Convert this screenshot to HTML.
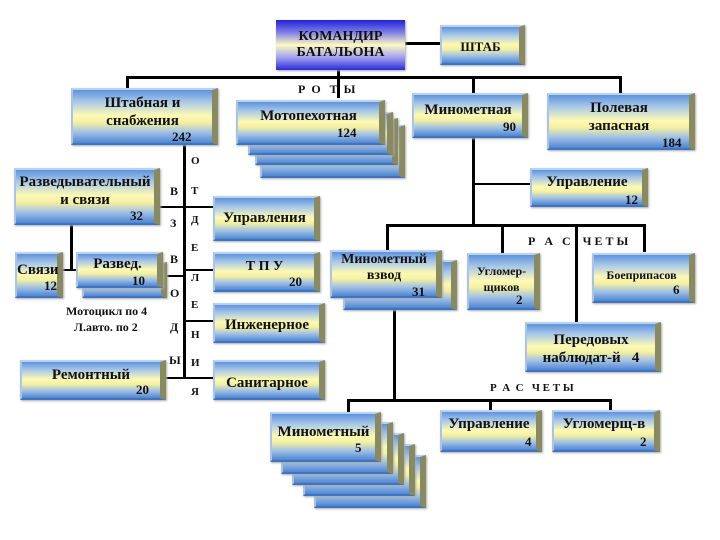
<!DOCTYPE html>
<html><head><meta charset="utf-8"><style>
body{margin:0;width:720px;height:540px;background:#fff;position:relative;overflow:hidden;font-family:"Liberation Serif","DejaVu Serif",serif;font-weight:bold;color:#111}
.b{position:absolute;box-sizing:border-box;background:linear-gradient(to bottom,#5d93dc 0%,#a9c8e8 22%,#fdf9b4 48%,#f3efa2 62%,#9fc0e6 80%,#4f86d2 100%);border-right:6px solid #8a8a60;border-left:2px solid #a8c4ea;border-top:2px solid #b8d2f0;border-bottom:2px solid #3f74c2;box-shadow:1px 1px 2px #aaa;font-size:14px;text-align:center;line-height:16px}
.cmd{background:linear-gradient(to bottom,#2020d8 0%,#8080e8 25%,#fdf9c0 50%,#a0a0f0 75%,#2a2ad8 100%);border:none}
.n{position:absolute;font-size:13px}
.l{position:absolute;background:#000}
.t{position:absolute;font-size:11px;letter-spacing:0}
</style></head><body>
<!-- lines -->
<div class="l" style="left:127px;top:76px;width:494px;height:3px"></div>
<div class="l" style="left:337px;top:70px;width:3px;height:28px"></div>
<div class="l" style="left:126px;top:76px;width:3px;height:14px"></div>
<div class="l" style="left:472px;top:76px;width:3px;height:17px"></div>
<div class="l" style="left:619px;top:76px;width:3px;height:17px"></div>
<div class="l" style="left:405px;top:42px;width:35px;height:3px"></div>
<div class="l" style="left:183px;top:145px;width:3px;height:234px"></div>
<div class="l" style="left:160px;top:206px;width:53px;height:2px"></div>
<div class="l" style="left:70px;top:225px;width:3px;height:46px"></div>
<div class="l" style="left:63px;top:269px;width:13px;height:2px"></div>
<div class="l" style="left:163px;top:275px;width:21px;height:2px"></div>
<div class="l" style="left:184px;top:269px;width:29px;height:2px"></div>
<div class="l" style="left:184px;top:320px;width:29px;height:2px"></div>
<div class="l" style="left:166px;top:377px;width:47px;height:2px"></div>
<div class="l" style="left:472px;top:138px;width:3px;height:88px"></div>
<div class="l" style="left:473px;top:183px;width:57px;height:2px"></div>
<div class="l" style="left:387px;top:224px;width:258px;height:3px"></div>
<div class="l" style="left:386px;top:224px;width:3px;height:26px"></div>
<div class="l" style="left:501px;top:224px;width:3px;height:30px"></div>
<div class="l" style="left:575px;top:224px;width:3px;height:98px"></div>
<div class="l" style="left:643px;top:224px;width:3px;height:28px"></div>
<div class="l" style="left:393px;top:310px;width:3px;height:90px"></div>
<div class="l" style="left:348px;top:399px;width:263px;height:3px"></div>
<div class="l" style="left:347px;top:399px;width:3px;height:14px"></div>
<div class="l" style="left:489px;top:399px;width:3px;height:12px"></div>
<div class="l" style="left:609px;top:399px;width:3px;height:12px"></div>

<!-- top -->
<div class="b cmd" style="left:276px;top:20px;width:129px;height:50px;padding-top:9px">КОМАНДИР<br>БАТАЛЬОНА</div>
<div class="b" style="left:440px;top:25px;width:85px;height:40px;padding-top:12px;font-size:13px">ШТАБ</div>
<div class="t" style="left:298px;top:82px;font-size:12px">Р&nbsp;&nbsp;О&nbsp;&nbsp;&nbsp;Т&nbsp;&nbsp;Ы</div>

<div class="b" style="left:71px;top:88px;width:147px;height:57px;padding-top:4px;font-size:15px;line-height:18px">Штабная и<br>снабжения</div>
<div class="n" style="left:172px;top:129px">242</div>

<div class="b" style="left:260px;top:125px;width:145px;height:53px"></div>
<div class="b" style="left:255px;top:118px;width:143px;height:47px"></div>
<div class="b" style="left:248px;top:112px;width:145px;height:43px"></div>
<div class="b" style="left:236px;top:100px;width:149px;height:45px;padding-top:6px;font-size:15px">Мотопехотная</div>
<div class="n" style="left:337px;top:125px">124</div>

<div class="b" style="left:412px;top:93px;width:116px;height:45px;padding-top:7px;font-size:15px">Минометная</div>
<div class="n" style="left:503px;top:119px">90</div>

<div class="b" style="left:547px;top:93px;width:148px;height:57px;padding-top:4px;font-size:15px;line-height:18px">Полевая<br>запасная</div>
<div class="n" style="left:662px;top:135px">184</div>

<!-- left column -->
<div class="b" style="left:14px;top:168px;width:146px;height:57px;padding-top:3px;font-size:15px;line-height:18px">Разведывательный<br>и связи</div>
<div class="n" style="left:130px;top:208px">32</div>
<div class="b" style="left:213px;top:196px;width:107px;height:45px;padding-top:12px;font-size:15px">Управления</div>

<div class="t" style="left:170px;top:184px;font-size:12px">В</div>
<div class="t" style="left:170px;top:216px;font-size:12px">З</div>
<div class="t" style="left:170px;top:252px;font-size:12px">В</div>
<div class="t" style="left:170px;top:286px;font-size:12px">О</div>
<div class="t" style="left:170px;top:320px;font-size:12px">Д</div>
<div class="t" style="left:169px;top:353px;font-size:12px">Ы</div>
<div class="t" style="left:191px;top:155px">О</div>
<div class="t" style="left:191px;top:185px">Т</div>
<div class="t" style="left:191px;top:214px">Д</div>
<div class="t" style="left:191px;top:242px">Е</div>
<div class="t" style="left:191px;top:272px">Л</div>
<div class="t" style="left:191px;top:299px">Е</div>
<div class="t" style="left:191px;top:329px">Н</div>
<div class="t" style="left:191px;top:357px">И</div>
<div class="t" style="left:191px;top:386px">Я</div>

<div class="b" style="left:15px;top:252px;width:48px;height:46px;padding-top:8px;font-size:15px">Связи</div>
<div class="n" style="left:44px;top:278px">12</div>
<div class="b" style="left:82px;top:262px;width:85px;height:36px"></div>
<div class="b" style="left:76px;top:252px;width:87px;height:36px;padding-top:2px;font-size:15px">Развед.</div>
<div class="n" style="left:132px;top:273px">10</div>
<div class="n" style="left:66px;top:304px;font-size:12px">Мотоцикл по 4</div>
<div class="n" style="left:74px;top:320px;font-size:12px">Л.авто. по 2</div>

<div class="b" style="left:213px;top:252px;width:107px;height:40px;padding-top:5px">Т П У</div>
<div class="n" style="left:289px;top:274px">20</div>
<div class="b" style="left:213px;top:303px;width:112px;height:40px;padding-top:12px;font-size:15px">Инженерное</div>
<div class="b" style="left:20px;top:360px;width:146px;height:40px;padding-top:5px;font-size:15px">Ремонтный</div>
<div class="n" style="left:136px;top:382px">20</div>
<div class="b" style="left:213px;top:360px;width:112px;height:40px;padding-top:13px;font-size:15px">Санитарное</div>

<!-- right -->
<div class="b" style="left:530px;top:168px;width:118px;height:39px;padding-top:4px;font-size:15px">Управление</div>
<div class="n" style="left:625px;top:192px">12</div>
<div class="t" style="left:528px;top:234px;font-size:12px">Р&nbsp;&nbsp;&nbsp;А&nbsp;&nbsp;&nbsp;С&nbsp;&nbsp;&nbsp;&nbsp;Ч Е Т Ы</div>

<div class="b" style="left:343px;top:260px;width:114px;height:50px"></div>
<div class="b" style="left:330px;top:250px;width:112px;height:48px;padding-top:0px;font-size:14px">Минометный<br>взвод</div>
<div class="n" style="left:412px;top:284px">31</div>
<div class="b" style="left:467px;top:253px;width:73px;height:57px;padding-top:8px;font-size:12px;line-height:16px">Угломер-<br>щиков</div>
<div class="n" style="left:516px;top:292px">2</div>
<div class="b" style="left:592px;top:253px;width:103px;height:50px;padding-top:12px;font-size:12px">Боеприпасов</div>
<div class="n" style="left:673px;top:282px">6</div>
<div class="b" style="left:525px;top:322px;width:136px;height:50px;padding-top:7px;font-size:15px;line-height:18px">Передовых<br>наблюдат-й&nbsp;&nbsp;&nbsp;4</div>

<div class="t" style="left:490px;top:382px;font-size:11px">Р&nbsp;&nbsp;А&nbsp;&nbsp;С&nbsp;&nbsp;&nbsp;Ч Е Т Ы</div>

<div class="b" style="left:314px;top:455px;width:112px;height:53px"></div>
<div class="b" style="left:303px;top:444px;width:112px;height:52px"></div>
<div class="b" style="left:292px;top:433px;width:112px;height:52px"></div>
<div class="b" style="left:281px;top:422px;width:112px;height:52px"></div>
<div class="b" style="left:270px;top:412px;width:111px;height:50px;padding-top:10px;font-size:15px">Минометный</div>
<div class="n" style="left:355px;top:440px">5</div>
<div class="b" style="left:440px;top:410px;width:102px;height:42px;padding-top:4px;font-size:15px">Управление</div>
<div class="n" style="left:525px;top:434px">4</div>
<div class="b" style="left:552px;top:410px;width:108px;height:42px;padding-top:4px;font-size:15px">Угломерщ-в</div>
<div class="n" style="left:640px;top:434px">2</div>
</body></html>
